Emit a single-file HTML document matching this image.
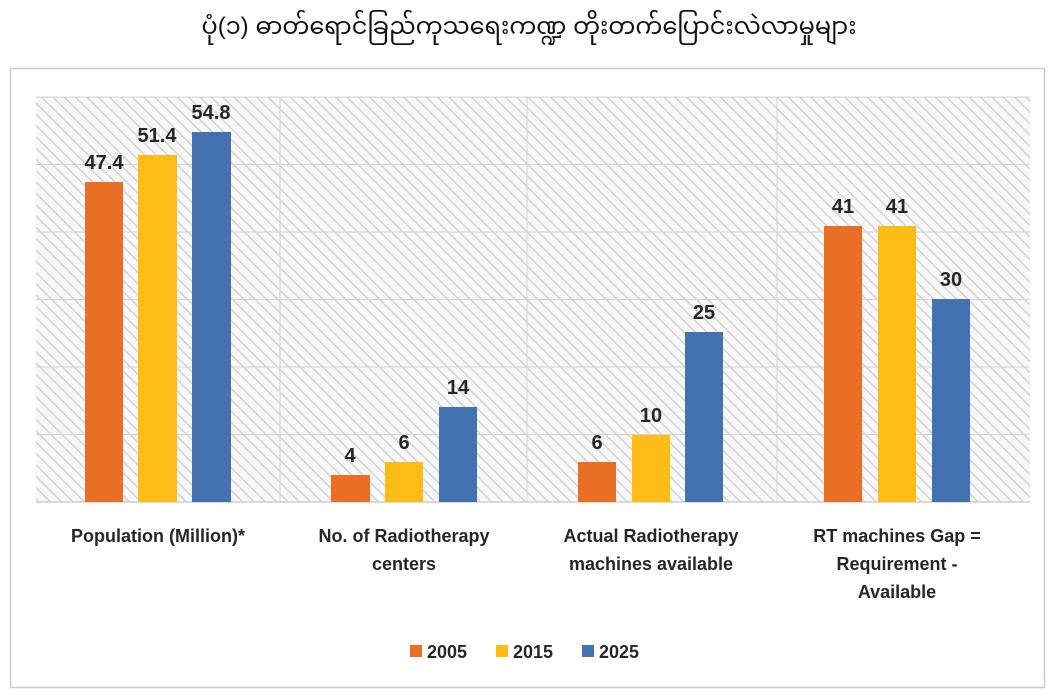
<!DOCTYPE html>
<html><head><meta charset="utf-8"><style>
html,body{margin:0;padding:0;background:#fff;}
svg{display:block;}
text{font-family:"Liberation Sans",sans-serif;}
</style></head><body>
<svg width="1058" height="697" viewBox="0 0 1058 697" xmlns="http://www.w3.org/2000/svg">
<defs>
<pattern id="h" patternUnits="userSpaceOnUse" width="8" height="8" patternTransform="rotate(-45)">
<rect width="8" height="8" fill="#f8f8f8"/>
<line x1="0" y1="0" x2="0" y2="8" stroke="#d3d3d3" stroke-width="3"/>
</pattern>
</defs>
<text x="529" y="34" text-anchor="middle" font-size="24" fill="#111" style="font-family:'Liberation Sans','Noto Sans Myanmar','Padauk',sans-serif">ပုံ(၁) ဓာတ်ရောင်ခြည်ကုသရေးကဏ္ဍ တိုးတက်ပြောင်းလဲလာမှုများ</text>
<rect x="10.5" y="68.5" width="1034" height="619" fill="#fff" stroke="#c8ccd4" stroke-width="1.5"/>
<rect x="36" y="97" width="994" height="405" fill="url(#h)"/>
<g stroke="#d4d4d4" stroke-width="1">
<line x1="36" y1="97" x2="1030" y2="97"/><line x1="36" y1="164.5" x2="1030" y2="164.5"/>
<line x1="36" y1="232" x2="1030" y2="232"/><line x1="36" y1="299.5" x2="1030" y2="299.5"/>
<line x1="36" y1="367" x2="1030" y2="367"/><line x1="36" y1="434.5" x2="1030" y2="434.5"/>
<line x1="280" y1="97" x2="280" y2="502"/><line x1="527" y1="97" x2="527" y2="502"/><line x1="777" y1="97" x2="777" y2="502"/>
</g>
<line x1="36" y1="502" x2="1030" y2="502" stroke="#d0d0d0" stroke-width="1.5"/>
<g>
<rect x="85" y="182" width="38" height="320" fill="#e86f25"/>
<rect x="138" y="155" width="39" height="347" fill="#fdbd16"/>
<rect x="192" y="132" width="39" height="370" fill="#4472b0"/>
<rect x="331" y="475" width="39" height="27" fill="#e86f25"/>
<rect x="385" y="462" width="38" height="40" fill="#fdbd16"/>
<rect x="439" y="407" width="38" height="95" fill="#4472b0"/>
<rect x="578" y="462" width="38" height="40" fill="#e86f25"/>
<rect x="632" y="435" width="38" height="67" fill="#fdbd16"/>
<rect x="685" y="332" width="38" height="170" fill="#4472b0"/>
<rect x="824" y="226" width="38" height="276" fill="#e86f25"/>
<rect x="878" y="226" width="38" height="276" fill="#fdbd16"/>
<rect x="932" y="299" width="38" height="203" fill="#4472b0"/>
</g>
<g font-size="20" font-weight="bold" fill="#262626" text-anchor="middle">
<text x="104" y="169">47.4</text><text x="157" y="142">51.4</text><text x="211" y="119">54.8</text>
<text x="350" y="462">4</text><text x="404" y="449">6</text><text x="458" y="394">14</text>
<text x="597" y="449">6</text><text x="651" y="422">10</text><text x="704" y="319">25</text>
<text x="843" y="213">41</text><text x="897" y="213">41</text><text x="951" y="286">30</text>
</g>
<g font-size="18" font-weight="bold" fill="#262626" text-anchor="middle">
<text x="158" y="542">Population (Million)*</text>
<text x="404" y="542">No. of Radiotherapy</text><text x="404" y="570">centers</text>
<text x="651" y="542">Actual Radiotherapy</text><text x="651" y="570">machines available</text>
<text x="897" y="542">RT machines Gap =</text><text x="897" y="570">Requirement -</text><text x="897" y="598">Available</text>
</g>
<g font-size="18" font-weight="bold" fill="#262626">
<rect x="410" y="645" width="12" height="12" fill="#e86f25"/><text x="427" y="658">2005</text>
<rect x="496" y="645" width="12" height="12" fill="#fdbd16"/><text x="513" y="658">2015</text>
<rect x="582" y="645" width="12" height="12" fill="#4472b0"/><text x="599" y="658">2025</text>
</g>
</svg>
</body></html>
